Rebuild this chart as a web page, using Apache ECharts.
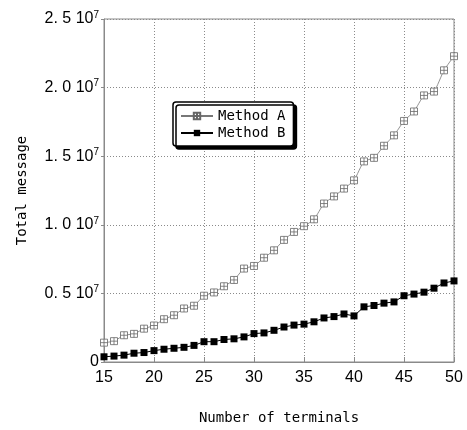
<!DOCTYPE html>
<html>
<head>
<meta charset="utf-8">
<script src="https://cdn.jsdelivr.net/npm/echarts@6/dist/echarts.min.js"></script>
<style>
  html, body {margin: 0; padding: 0; background: #fff;}
  #chart {width: 467px; height: 430px;}
</style>
</head>
<body>
<div id="chart"></div>
<script>
  // number of terminals
  var terminals = [15, 16, 17, 18, 19, 20, 21, 22, 23, 24, 25, 26, 27, 28, 29, 30, 31, 32,
    33, 34, 35, 36, 37, 38, 39, 40, 41, 42, 43, 44, 45, 46, 47, 48, 49, 50]
  // total message, in units of 10^7
  var methodA = [0.141, 0.152, 0.195, 0.205, 0.243, 0.266, 0.312, 0.341, 0.390, 0.410, 0.483, 0.507,
    0.552, 0.598, 0.681, 0.700, 0.760, 0.814, 0.890, 0.948, 0.990, 1.040, 1.155, 1.207,
    1.264, 1.324, 1.462, 1.488, 1.576, 1.652, 1.757, 1.826, 1.943, 1.971, 2.126, 2.229]
  var methodB = [0.038, 0.043, 0.050, 0.064, 0.069, 0.083, 0.093, 0.100, 0.107, 0.121, 0.148, 0.148,
    0.164, 0.169, 0.183, 0.207, 0.212, 0.231, 0.255, 0.269, 0.276, 0.293, 0.321, 0.331,
    0.350, 0.336, 0.402, 0.412, 0.429, 0.438, 0.483, 0.495, 0.509, 0.538, 0.576, 0.591]
  var yTickLabels = ['0', '0. 5', '1. 0', '1. 5', '2. 0', '2. 5']

  var SCALE = 1e7
  var monoFont = '"DejaVu Sans Mono", monospace'
  var sansFont = '"Liberation Sans", Arial, sans-serif'
  var plusSquare = 'path://M0,0H10V10H0Z M5,0V10 M0,5H10'

  function pairs(vals) {
    return vals.map(function (v, i) { return [terminals[i], v * SCALE] })
  }

  var chart = echarts.init(document.getElementById('chart'), null, {renderer: 'canvas'})
  chart.setOption({
    animation: false,
    grid: {
      left: 104, right: 13, top: 19, bottom: 62,
      show: true, borderColor: '#8a8a8a', borderWidth: 1
    },
    legend: {
      left: 173, top: 102,
      orient: 'vertical',
      itemWidth: 32, itemHeight: 8, itemGap: 3,
      padding: [7, 8, 6, 7],
      backgroundColor: '#fff',
      borderColor: '#000', borderWidth: 1.5, borderRadius: 3,
      shadowColor: '#000', shadowBlur: 0, shadowOffsetX: 3, shadowOffsetY: 3,
      selectedMode: false,
      textStyle: {fontFamily: monoFont, fontSize: 14, color: '#000', lineHeight: 14},
      data: ['Method A', 'Method B']
    },
    xAxis: {
      type: 'value',
      min: 15, max: 50, interval: 5,
      name: 'Number of terminals',
      nameLocation: 'middle',
      nameGap: 49,
      nameTextStyle: {fontFamily: monoFont, fontSize: 14, color: '#000'},
      axisLine: {lineStyle: {color: '#8a8a8a'}},
      axisTick: {inside: true, length: 5, lineStyle: {color: '#8a8a8a'}},
      axisLabel: {fontFamily: sansFont, fontSize: 16, color: '#000', margin: 8},
      splitLine: {show: true, lineStyle: {color: '#8a8a8a', type: [1, 2], width: 1}}
    },
    yAxis: {
      type: 'value',
      min: 0, max: 2.5 * SCALE, interval: 0.5 * SCALE,
      name: 'Total message',
      nameLocation: 'middle',
      nameGap: 75,
      nameTextStyle: {fontFamily: monoFont, fontSize: 14, color: '#000'},
      axisLine: {show: true, lineStyle: {color: '#8a8a8a'}},
      axisTick: {show: true, length: 3, lineStyle: {color: '#8a8a8a'}},
      axisLabel: {
        margin: 5,
        formatter: function (value) {
          var idx = Math.round(value / (0.5 * SCALE))
          if (idx === 0) return '{n|' + yTickLabels[0] + '}'
          return '{n|' + yTickLabels[idx] + ' 10}{s|7}'
        },
        rich: {
          n: {fontFamily: sansFont, fontSize: 16, color: '#000'},
          s: {fontFamily: sansFont, fontSize: 10, color: '#000', verticalAlign: 'top', padding: [0, 0, 8, 0]}
        }
      },
      splitLine: {show: true, lineStyle: {color: '#8a8a8a', type: [1, 2], width: 1}}
    },
    series: [
      {
        name: 'Method A',
        type: 'line',
        smooth: 0.2,
        data: pairs(methodA),
        symbol: plusSquare,
        symbolSize: 7,
        showAllSymbol: true,
        lineStyle: {color: '#777', width: 0.8},
        itemStyle: {color: '#fff', borderColor: '#666', borderWidth: 0.8}
      },
      {
        name: 'Method B',
        type: 'line',
        data: pairs(methodB),
        symbol: 'rect',
        symbolSize: 7,
        showAllSymbol: true,
        lineStyle: {color: '#000', width: 1},
        itemStyle: {color: '#000'}
      }
    ]
  })
</script>
</body>
</html>
